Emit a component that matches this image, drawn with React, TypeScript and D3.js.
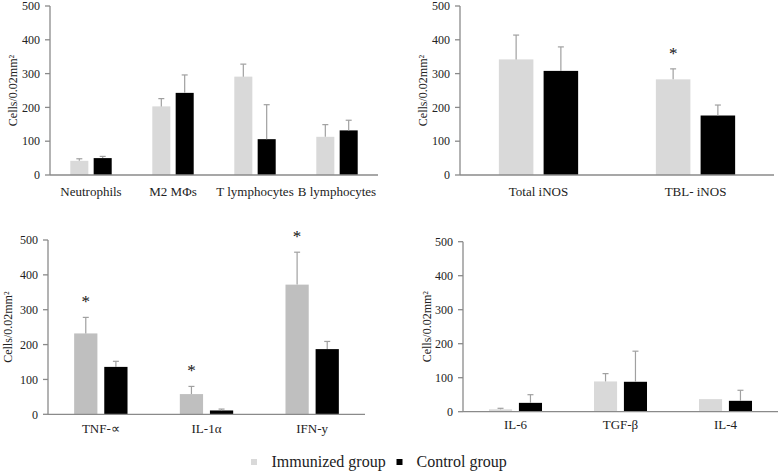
import React from "react";
import * as d3 from "d3";

// ---------- DATA ----------
const p1Categories = ["Neutrophils", "M2 MΦs", "T lymphocytes", "B lymphocytes"];
const p1Immunized = [42, 203, 291, 113];
const p1ImmunizedErr = [6, 23, 37, 36];
const p1Control = [50, 243, 106, 132];
const p1ControlErr = [5, 53, 102, 30];
const p1Sig = [false, false, false, false];

const p2Categories = ["Total iNOS", "TBL- iNOS"];
const p2Immunized = [342, 283];
const p2ImmunizedErr = [72, 31];
const p2Control = [308, 176];
const p2ControlErr = [71, 31];
const p2Sig = [false, true];

const p3Categories = ["TNF-∝", "IL-1α", "IFN-y"];
const p3Immunized = [232, 58, 372];
const p3ImmunizedErr = [46, 22, 93];
const p3Control = [136, 11, 187];
const p3ControlErr = [16, 4, 22];
const p3Sig = [true, true, true];

const p4Categories = ["IL-6", "TGF-β", "IL-4"];
const p4Immunized = [7, 89, 37];
const p4ImmunizedErr = [3, 23, 0];
const p4Control = [26, 88, 32];
const p4ControlErr = [24, 90, 31];
const p4Sig = [false, false, false];

const yTicks = [0, 100, 200, 300, 400, 500];
const yLabel = "Cells/0.02mm²";
const legendLabels = ["Immunized group", "Control group"];

// ---------- LAYOUT / STYLE ----------
const FONT = "'Liberation Serif', 'Times New Roman', serif";
const AXIS = "#8a8a8a";
const ERR = "#a0a0a0";
const LIGHT = "#d9d9d9";
const MID = "#bfbfbf";
const BLACK = "#000000";

type PanelProps = {
  cats: string[];
  imm: number[];
  immErr: number[];
  ctrl: number[];
  ctrlErr: number[];
  sig: boolean[];
  axisX: number;
  axisRight: number;
  bandStart: number;
  bandEnd: number;
  y0: number;
  yTop: number;
  labelY: number;
  yLabelX: number;
  gray: string;
};

function Panel(p: PanelProps) {
  const y = d3.scaleLinear().domain([0, 500]).range([p.y0, p.yTop]);
  const x = d3.scaleBand<string>().domain(p.cats).range([p.bandStart, p.bandEnd]);
  const bw = x.bandwidth();
  const barW = bw * 0.22;
  const gap = bw * 0.065;
  const capW = 6;

  const items = p.cats.map((c, i) => {
    const cx = (x(c) as number) + bw / 2;
    const gx = cx - gap / 2 - barW;
    const kx = cx + gap / 2;
    return { c, i, cx, gx, kx };
  });

  const errBar = (xc: number, v: number, e: number, key: string) =>
    e > 0 ? (
      <g key={key}>
        <line x1={xc} x2={xc} y1={y(v)} y2={y(v + e)} stroke={ERR} strokeWidth={1.2} />
        <line x1={xc - capW / 2} x2={xc + capW / 2} y1={y(v + e)} y2={y(v + e)} stroke={ERR} strokeWidth={1.2} />
      </g>
    ) : null;

  return (
    <g>
      {/* y axis */}
      <line x1={p.axisX} x2={p.axisX} y1={y(0)} y2={y(500)} stroke={AXIS} strokeWidth={1.3} />
      {yTicks.map((t) => (
        <g key={t}>
          <line x1={p.axisX - 5} x2={p.axisX} y1={y(t)} y2={y(t)} stroke={AXIS} strokeWidth={1.3} />
          <text x={p.axisX - 10} y={y(t)} dy="0.35em" textAnchor="end" fontSize={12} fontFamily={FONT} fill="#222">
            {t}
          </text>
        </g>
      ))}
      <text
        transform={`translate(${p.yLabelX},${(y(0) + y(500)) / 2}) rotate(-90)`}
        textAnchor="middle"
        dominantBaseline="central"
        fontSize={12}
        fontFamily={FONT}
        fill="#222"
      >
        {yLabel}
      </text>
      {/* bars */}
      {items.map(({ c, i, gx, kx }) => (
        <g key={c}>
          <rect x={gx} y={y(p.imm[i])} width={barW} height={y(0) - y(p.imm[i])} fill={p.gray} />
          <rect x={kx} y={y(p.ctrl[i])} width={barW} height={y(0) - y(p.ctrl[i])} fill={BLACK} />
          {errBar(gx + barW / 2, p.imm[i], p.immErr[i], "ei")}
          {errBar(kx + barW / 2, p.ctrl[i], p.ctrlErr[i], "ec")}
          {p.sig[i] ? (
            <text
              x={gx + barW / 2}
              y={y(p.imm[i] + p.immErr[i]) - 10}
              textAnchor="middle"
              fontSize={17}
              fontFamily={FONT}
              fill="#111"
            >
              *
            </text>
          ) : null}
        </g>
      ))}
      {/* x axis */}
      <line x1={p.axisX} x2={p.axisRight} y1={y(0)} y2={y(0)} stroke={AXIS} strokeWidth={1.3} />
      {items.map(({ c, cx }) => (
        <text key={c} x={cx} y={p.labelY} textAnchor="middle" fontSize={13} fontFamily={FONT} fill="#222">
          {c}
        </text>
      ))}
    </g>
  );
}

export default function App() {
  return (
    <svg
      width={778}
      height={471}
      style={{ position: "absolute", left: 0, top: 0, background: "#fff" }}
    >
      <rect width={778} height={471} fill="#fff" />
      <Panel
        cats={p1Categories}
        imm={p1Immunized}
        immErr={p1ImmunizedErr}
        ctrl={p1Control}
        ctrlErr={p1ControlErr}
        sig={p1Sig}
        axisX={50}
        axisRight={378}
        bandStart={50}
        bandEnd={378}
        y0={175}
        yTop={6}
        labelY={196}
        yLabelX={12.5}
        gray={LIGHT}
      />
      <Panel
        cats={p2Categories}
        imm={p2Immunized}
        immErr={p2ImmunizedErr}
        ctrl={p2Control}
        ctrlErr={p2ControlErr}
        sig={p2Sig}
        axisX={460}
        axisRight={774}
        bandStart={460}
        bandEnd={774}
        y0={175}
        yTop={6}
        labelY={196}
        yLabelX={423}
        gray={LIGHT}
      />
      <Panel
        cats={p3Categories}
        imm={p3Immunized}
        immErr={p3ImmunizedErr}
        ctrl={p3Control}
        ctrlErr={p3ControlErr}
        sig={p3Sig}
        axisX={48}
        axisRight={365}
        bandStart={48}
        bandEnd={365}
        y0={414.3}
        yTop={240}
        labelY={433}
        yLabelX={8}
        gray={MID}
      />
      <Panel
        cats={p4Categories}
        imm={p4Immunized}
        immErr={p4ImmunizedErr}
        ctrl={p4Control}
        ctrlErr={p4ControlErr}
        sig={p4Sig}
        axisX={463}
        axisRight={778}
        bandStart={463}
        bandEnd={778}
        y0={411.7}
        yTop={241.7}
        labelY={429}
        yLabelX={427}
        gray={LIGHT}
      />
      {/* legend */}
      <g fontFamily={FONT} fontSize={16} fill="#222">
        <rect x={251} y={459} width={6} height={6} fill={LIGHT} />
        <text x={271.5} y={466.5}>{legendLabels[0]}</text>
        <rect x={396.5} y={459} width={6} height={6} fill={BLACK} />
        <text x={416.5} y={466.5}>{legendLabels[1]}</text>
      </g>
    </svg>
  );
}
